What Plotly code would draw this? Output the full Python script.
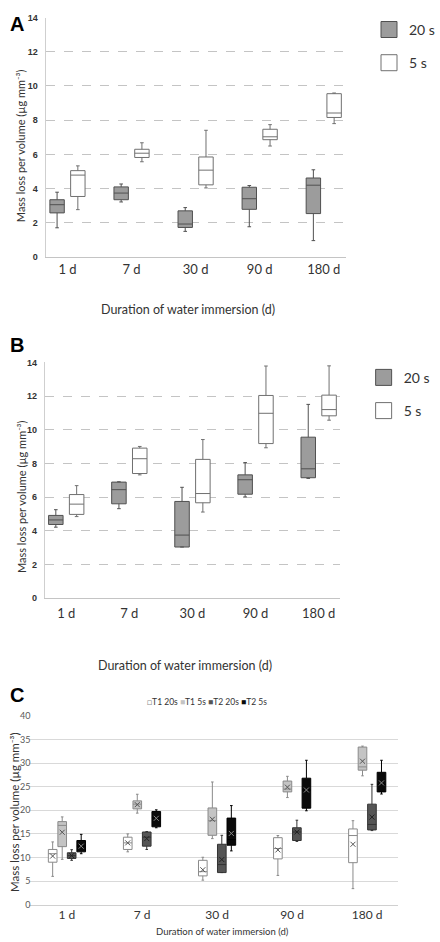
import plotly.graph_objects as go

# ---------------- data ----------------
categories = ["1 d", "7 d", "30 d", "90 d", "180 d"]

# Panel A
a20_low = [1.71, 3.22, 1.50, 1.77, 0.96]
a20_q1 = [2.58, 3.35, 1.73, 2.79, 2.54]
a20_med = [3.06, 3.74, 1.93, 3.41, 4.20]
a20_q3 = [3.35, 4.10, 2.70, 4.08, 4.62]
a20_up = [3.79, 4.27, 2.89, 4.18, 5.10]

a5_low = [2.77, 5.57, 4.04, 6.49, 7.80]
a5_q1 = [3.54, 5.82, 4.22, 6.86, 8.16]
a5_med = [4.79, 6.07, 5.08, 7.03, 8.42]
a5_q3 = [5.05, 6.30, 5.85, 7.47, 9.55]
a5_up = [5.33, 6.68, 7.41, 7.74, 9.59]

# Panel B
b20_low = [4.21, 5.31, 3.03, 6.01, 7.11]
b20_q1 = [4.37, 5.60, 3.03, 6.17, 7.15]
b20_med = [4.64, 6.44, 3.74, 7.03, 7.68]
b20_q3 = [4.91, 6.89, 5.74, 7.32, 9.56]
b20_up = [5.25, 6.91, 6.58, 8.05, 11.51]

b5_low = [4.84, 7.32, 5.11, 8.93, 10.57]
b5_q1 = [4.97, 7.40, 5.66, 9.18, 10.83]
b5_med = [5.58, 8.28, 6.21, 10.98, 11.20]
b5_q3 = [6.15, 8.91, 8.24, 12.04, 12.06]
b5_up = [6.68, 9.01, 9.42, 13.79, 13.80]

# Panel C
t1_20_low = [6.0, 11.2, 5.2, 6.2, 3.4]
t1_20_q1 = [9.0, 11.7, 6.1, 9.7, 8.9]
t1_20_med = [10.8, 13.1, 7.0, 11.9, 14.65]
t1_20_q3 = [11.7, 14.3, 9.4, 14.2, 16.05]
t1_20_up = [13.3, 15.0, 10.05, 14.65, 17.8]
t1_20_mean = [10.3, 13.1, 7.4, 11.6, 12.8]

t1_5_low = [9.6, 19.4, 14.0, 22.7, 27.3]
t1_5_q1 = [12.3, 20.3, 14.7, 23.9, 28.5]
t1_5_med = [16.8, 21.3, 17.8, 24.5, 29.2]
t1_5_q3 = [17.6, 22.0, 20.5, 26.2, 33.4]
t1_5_up = [18.6, 23.4, 26.0, 27.2, 33.6]
t1_5_mean = [15.35, 21.2, 18.1, 24.9, 30.4]

t2_20_low = [9.4, 11.7, 6.8, 13.4, 15.7]
t2_20_q1 = [9.8, 12.4, 6.8, 13.6, 15.84]
t2_20_med = [10.4, 14.3, 8.5, 15.4, 17.0]
t2_20_q3 = [11.0, 15.4, 12.8, 16.3, 21.3]
t2_20_up = [11.65, 15.5, 14.7, 17.9, 25.5]
t2_20_mean = [10.4, 14.0, 9.56, 15.4, 18.56]

t2_5_low = [10.8, 16.3, 11.4, 19.9, 23.45]
t2_5_q1 = [11.2, 16.5, 12.6, 20.45, 23.9]
t2_5_med = [12.4, 18.4, 13.8, 24.3, 25.5]
t2_5_q3 = [13.6, 19.75, 18.35, 26.8, 28.05]
t2_5_up = [14.9, 20.1, 21.0, 30.6, 30.6]
t2_5_mean = [12.4, 18.3, 15.1, 24.3, 25.8]

y_title = "Mass loss per volume (µg mm⁻³)"
x_title = "Duration of water immersion (d)"

# ---------------- layout helpers ----------------
W, H = 440, 942
FONT = "Lato"


def fx(p):
    return p / W


def fy(p):
    return 1 - p / H


fig = go.Figure()
idx = list(range(len(categories)))


def add_box(xa, ya, offset, width, stats, fill, line, ww):
    low, q1, med, q3, up = stats
    fig.add_trace(go.Box(
        x=[i + offset for i in idx], q1=q1, median=med, q3=q3,
        lowerfence=low, upperfence=up, orientation="v",
        fillcolor=fill, line=dict(color=line, width=1),
        width=width, whiskerwidth=ww, boxpoints=False,
        xaxis=xa, yaxis=ya, showlegend=False, hoverinfo="skip"))


def add_legend_entry(name, fill, line, legend, group, xa, ya):
    fig.add_trace(go.Scatter(
        x=[None], y=[None], mode="markers", name=name,
        marker=dict(symbol="square", size=16, color=fill,
                    line=dict(color=line, width=1)),
        legend=legend, legendgroup=group, xaxis=xa, yaxis=ya))


GRAY_FILL, GRAY_LINE = "#9c9c9c", "#505050"
WHITE_FILL, WHITE_LINE = "#ffffff", "#707070"

# Panel A
add_box("x", "y", -0.162, 0.225, (a20_low, a20_q1, a20_med, a20_q3, a20_up), GRAY_FILL, GRAY_LINE, 0.25)
add_box("x", "y", 0.162, 0.225, (a5_low, a5_q1, a5_med, a5_q3, a5_up), WHITE_FILL, WHITE_LINE, 0.25)
add_legend_entry("20 s", GRAY_FILL, GRAY_LINE, "legend", "a20", "x", "y")
add_legend_entry("5 s", WHITE_FILL, WHITE_LINE, "legend", "a5", "x", "y")

# Panel B
add_box("x2", "y2", -0.165, 0.23, (b20_low, b20_q1, b20_med, b20_q3, b20_up), GRAY_FILL, GRAY_LINE, 0.25)
add_box("x2", "y2", 0.165, 0.23, (b5_low, b5_q1, b5_med, b5_q3, b5_up), WHITE_FILL, WHITE_LINE, 0.25)
add_legend_entry("20 s", GRAY_FILL, GRAY_LINE, "legend2", "b20", "x2", "y2")
add_legend_entry("5 s", WHITE_FILL, WHITE_LINE, "legend2", "b5", "x2", "y2")

# Panel C
c_series = [
    ("T1 20s", (t1_20_low, t1_20_q1, t1_20_med, t1_20_q3, t1_20_up), t1_20_mean, "#ffffff", "#8a8a8a", "#555555", -0.19),
    ("T1 5s", (t1_5_low, t1_5_q1, t1_5_med, t1_5_q3, t1_5_up), t1_5_mean, "#c4c4c4", "#8a8a8a", "#555555", -0.063),
    ("T2 20s", (t2_20_low, t2_20_q1, t2_20_med, t2_20_q3, t2_20_up), t2_20_mean, "#555555", "#333333", "#222222", 0.063),
    ("T2 5s", (t2_5_low, t2_5_q1, t2_5_med, t2_5_q3, t2_5_up), t2_5_mean, "#0a0a0a", "#000000", "#8a8a8a", 0.19),
]
for name, stats, mean, fill, line, mcol, off in c_series:
    add_box("x3", "y3", off, 0.115, stats, fill, line, 0.3)
    fig.add_trace(go.Scatter(
        x=[i + off for i in idx], y=mean, mode="markers", showlegend=False,
        marker=dict(symbol="x-thin", size=5, line=dict(color=mcol, width=1)),
        xaxis="x3", yaxis="y3", hoverinfo="skip"))

# ---------------- axes ----------------
xcommon = dict(tickmode="array", tickvals=idx, ticktext=categories, showgrid=False,
               zeroline=False, ticks="", showline=True, linecolor="#c4c4c4", linewidth=1,
               fixedrange=True)
ycommon_ab = dict(range=[0, 14], dtick=2, showgrid=True, gridcolor="#c4c4c4", griddash="dash",
                  gridwidth=1, zeroline=False, showline=True, linecolor="#cfcfcf", ticks="",
                  tickfont=dict(family="Liberation Sans", size=9, color="#333333", weight="bold"),
                  ticklabelstandoff=5, fixedrange=True)

fig.update_layout(
    width=W, height=H, margin=dict(l=0, r=0, t=0, b=0),
    paper_bgcolor="white", plot_bgcolor="white",
    font=dict(family=FONT, color="#333333"),
    xaxis=dict(xcommon, domain=[fx(50.5), fx(382)], range=[-0.34, 4.34], anchor="y",
               tickfont=dict(family=FONT, size=13, color="#333333"), ticklabelstandoff=0),
    yaxis=dict(ycommon_ab, domain=[fy(254), fy(11.7)], anchor="x"),
    xaxis2=dict(xcommon, domain=[fx(49.5), fx(376)], range=[-0.34, 4.34], anchor="y2",
                tickfont=dict(family=FONT, size=13, color="#333333"), ticklabelstandoff=3),
    yaxis2=dict(ycommon_ab, domain=[fy(599), fy(360.7)], anchor="x2"),
    xaxis3=dict(xcommon, domain=[fx(32.5), 1.0], range=[-0.5, 4.41], anchor="y3",
                linecolor="#d0d0d0",
                tickfont=dict(family=FONT, size=12, color="#333333"), ticklabelstandoff=-1),
    yaxis3=dict(range=[0, 40], dtick=5, showgrid=True, gridcolor="#d9d9d9", gridwidth=1,
                zeroline=False, showline=False, ticks="", anchor="x3",
                domain=[fy(909.3), fy(718.3)],
                tickfont=dict(family=FONT, size=9, color="#595959"), ticklabelstandoff=-2,
                fixedrange=True),
    legend=dict(x=fx(408), y=fy(8), xanchor="left", yanchor="top",
                font=dict(family=FONT, size=14, color="#333333"),
                bgcolor="rgba(0,0,0,0)", tracegroupgap=12, itemwidth=30),
    legend2=dict(x=fx(402), y=fy(360), xanchor="left", yanchor="top",
                 font=dict(family=FONT, size=14, color="#333333"),
                 bgcolor="rgba(0,0,0,0)", tracegroupgap=12, itemwidth=30),
)

ann = []
# panel letters
for letter, (x, y) in {"A": (19, 18), "B": (19, 343), "C": (19, 697)}.items():
    ann.append(dict(text=f"<b>{letter}</b>", x=fx(x), y=fy(y), xref="paper", yref="paper",
                    showarrow=False, xanchor="center", yanchor="middle",
                    font=dict(family="Liberation Sans", size=20, color="#000000")))
# y titles
for (x, y, size) in [(23, 141, 11), (23, 496, 11), (16, 816, 11.5)]:
    ann.append(dict(text=y_title, x=fx(x), y=fy(y), xref="paper", yref="paper", textangle=-90,
                    showarrow=False, xanchor="center", yanchor="middle",
                    font=dict(family=FONT, size=size, color="#333333")))
# x titles
for (x, y, size) in [(208, 307, 12.5), (204, 667, 12.5), (246, 936, 9.5)]:
    ann.append(dict(text=x_title, x=fx(x), y=fy(y), xref="paper", yref="paper",
                    showarrow=False, xanchor="center", yanchor="middle",
                    font=dict(family=FONT, size=size, color="#333333")))
# panel C legend
leg_parts = []
for name, stats, mean, fill, line, mcol, off in c_series:
    sym = "□" if fill == "#ffffff" else "■"
    col = "#8a8a8a" if fill == "#ffffff" else fill
    leg_parts.append(f'<span style="color:{col}">{sym}</span>{name}')
ann.append(dict(text=" ".join(leg_parts), x=fx(229), y=fy(704), xref="paper", yref="paper",
                showarrow=False, xanchor="center", yanchor="middle",
                font=dict(family=FONT, size=8.5, color="#333333")))
fig.update_layout(annotations=ann)

fig.write_html("out.html")
